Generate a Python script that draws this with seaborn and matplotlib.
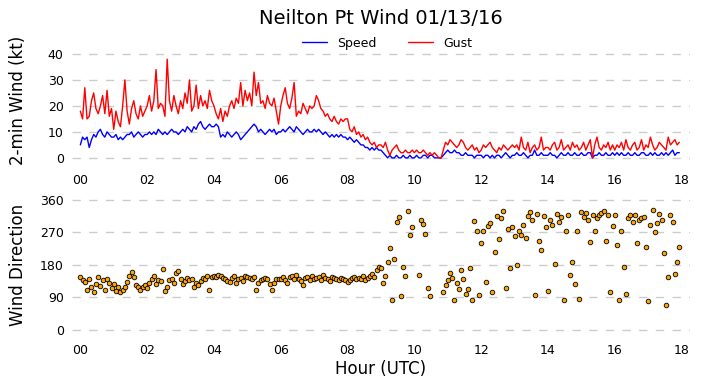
import numpy as np
import pandas as pd
import matplotlib
matplotlib.use("Agg")
import matplotlib.pyplot as plt
import seaborn as sns

# 4-minute samples, 15 per hour, 00-18 UTC
speed = [
    5, 8, 7, 8, 4, 7, 9, 8, 10, 11, 9, 8, 10, 9, 8,
    8, 9, 7, 8, 7, 8, 9, 9, 10, 8, 9, 10, 9, 8, 9,
    9, 10, 9, 10, 9, 11, 10, 9, 10, 9, 10, 11, 10, 10, 9,
    10, 11, 10, 12, 11, 10, 12, 11, 13, 14, 12, 11, 12, 13, 12,
    12, 13, 12, 8, 9, 8, 10, 9, 8, 9, 10, 9, 7, 8, 9,
    10, 11, 12, 13, 12, 10, 11, 10, 9, 10, 11, 10, 11, 9, 10,
    10, 11, 10, 11, 12, 11, 10, 12, 11, 10, 9, 10, 11, 10, 10,
    11, 10, 11, 10, 9, 10, 9, 8, 9, 8, 9, 8, 9, 8, 8,
    7, 8, 7, 6, 7, 6, 5, 5, 4, 4, 3, 4, 3, 4, 3,
    3, 2, 1, 0, 1, 0, 0, 1, 0, 0, 1, 0, 0, 1, 0,
    0, 1, 0, 0, 1, 1, 0, 1, 1, 0, 0, 0, 0, 1, 2,
    3, 2, 2, 3, 2, 2, 1, 1, 2, 1, 1, 1, 0, 1, 1,
    1, 0, 1, 1, 0, 1, 0, 1, 1, 0, 1, 2, 1, 0, 1,
    1, 2, 1, 1, 2, 1, 0, 1, 1, 3, 1, 1, 2, 1, 1,
    1, 2, 1, 1, 0, 1, 2, 1, 1, 2, 1, 1, 2, 1, 1,
    2, 1, 1, 2, 2, 0, 1, 1, 2, 1, 1, 2, 1, 1, 2,
    1, 2, 1, 2, 1, 1, 2, 1, 1, 2, 1, 1, 2, 2, 1,
    1, 2, 1, 2, 1, 1, 2, 1, 2, 1, 2, 3, 1, 2, 2,
]
gust = [
    18, 15, 27, 15, 16, 22, 25, 19, 17, 20, 24, 17, 26, 16, 19,
    11, 18, 14, 12, 20, 30, 18, 13, 19, 22, 17, 15, 20, 16, 18,
    20, 24, 18, 22, 34, 19, 21, 20, 16, 38, 22, 18, 24, 20, 17,
    22, 19, 25, 21, 30, 18, 20, 28, 19, 24, 20, 22, 19, 26, 22,
    20, 17, 15, 19, 14, 18, 16, 20, 22, 19, 23, 21, 29, 20, 26,
    22, 25, 20, 33, 24, 29, 21, 22, 19, 24, 21, 20, 23, 18, 13,
    20, 24, 27, 21, 19, 23, 29, 16, 18, 17, 21, 19, 17, 20, 19,
    20, 24, 22, 19, 18, 16, 17, 15, 14, 16, 14, 13, 15, 14, 15,
    15, 11, 10, 12, 9, 10, 8, 9, 7, 8, 6, 5, 6, 4, 5,
    5, 4, 6, 3, 1, 3, 4, 5, 3, 2, 2, 3, 2, 2, 3,
    2, 3, 2, 2, 3, 2, 1, 2, 1, 2, 1, 0, 0, 3, 6,
    5, 7, 6, 5, 4, 5, 7, 6, 4, 3, 4, 5, 3, 4, 2,
    3, 5, 4, 5, 6, 4, 3, 2, 4, 3, 5, 4, 3, 4, 5,
    4, 5, 3, 8, 4, 3, 6, 2, 4, 5, 3, 4, 8, 3, 4,
    4, 3, 5, 6, 3, 4, 7, 3, 4, 5, 3, 6, 4, 5, 3,
    4, 6, 3, 5, 7, 0, 5, 8, 4, 3, 5, 4, 6, 3, 5,
    3, 5, 4, 6, 3, 7, 4, 3, 5, 6, 3, 4, 7, 3, 5,
    4, 8, 5, 3, 4, 6, 5, 4, 3, 8, 5, 6, 7, 5, 6,
]
nan = np.nan
direction = [
    148, 138, 132, 110, 140, 120, 104, 128, 146, 122, 138, 112, 140, 130, 116,
    128, 108, 120, 104, 112, 118, 134, 150, 160, 146, 125, 120, 112, 118, 124,
    115, 130, 140, 150, 128, 138, 135, 170, 108, 120, 138, 142, 130, 158, 164,
    140, 128, 135, 145, 138, 140, 120, 130, 125, 137, 145, 140, 150, 110, 148,
    150, 148, 152, 150, 145, 140, 137, 132, 145, 150, 130, 140, 145, 135, 150,
    148, 145, 140, 146, 112, 130, 138, 142, 145, 140, 128, 110, 130, 142, 140,
    140, 146, 138, 130, 146, 150, 142, 152, 140, 135, 125, 143, 146, 138, 150,
    140, 145, 148, 138, 152, 145, 140, 135, 148, 143, 140, 138, 145, 140, 138,
    132, 138, 143, 148, 142, 145, 140, 150, 138, 145, 150, 155, 148, 165, 175,
    172, 130, 150, 189, 226, 82, 196, 298, 313, 94, 174, 149, 330, 263, 285,
    nan, nan, 152, 304, 294, 266, 115, 93, nan, nan, nan, nan, nan, 106, 125,
    139, 158, 145, 82, 130, 113, 165, 141, 99, 113, 171, 84, 302, 274, 97,
    240, 274, 134, 287, 296, 104, 217, 317, 251, 310, 330, 115, 280, 171, 285,
    259, 179, 273, 264, 291, 256, 317, 327, 305, 96, 320, 247, 221, 317, 286,
    108, 305, 292, 184, 320, 299, 312, 83, 275, 318, 151, 188, 127, 274, 85,
    327, 312, 325, 305, 243, 318, 275, 310, 318, 325, 330, 247, 318, 105, 289,
    318, 235, 83, 275, 174, 99, 310, 318, 300, 318, 240, 305, 310, 312, 229,
    79, 290, 332, 271, 295, 320, 305, 212, 68, 146, 318, 300, 154, 188, 231,
]
hour_ticks = [0, 2, 4, 6, 8, 10, 12, 14, 16, 18]
hour_labels = ["00", "02", "04", "06", "08", "10", "12", "14", "16", "18"]

df = pd.DataFrame({
    "hour": np.arange(len(speed)) / 15,
    "speed": speed,
    "gust": gust,
    "direction": direction,
})

sns.set_style("white")
plt.rcParams["font.family"] = ["DejaVu Sans"]
plt.rcParams["text.color"] = "k"
plt.rcParams["xtick.color"] = "k"
plt.rcParams["ytick.color"] = "k"

fig = plt.figure(figsize=(7.01, 3.88), dpi=100)
ax1 = fig.add_axes([0.1027, 0.573, 0.8815, 0.308])
ax2 = fig.add_axes([0.1027, 0.1356, 0.8815, 0.3629])

sns.lineplot(data=df, x="hour", y="speed", ax=ax1, color="b", lw=1, label="Speed")
sns.lineplot(data=df, x="hour", y="gust", ax=ax1, color="r", lw=1, label="Gust")
sns.scatterplot(data=df, x="hour", y="direction", ax=ax2, color="orange",
                edgecolor="k", linewidth=0.6, s=11, zorder=3)

ax1.set_ylim(-3, 43)
ax1.set_yticks([0, 10, 20, 30, 40])
ax2.set_ylim(-15, 375)
ax2.set_yticks([0, 90, 180, 270, 360])

for ax in (ax1, ax2):
    ax.set_xlim(-0.25, 18.25)
    ax.set_xticks(hour_ticks)
    ax.set_xticklabels(hour_labels)
    ax.set_xlabel("")
    ax.set_ylabel("")
    ax.tick_params(length=0, labelsize=9, pad=6)
    ax.yaxis.grid(True, color="#cccccc", linestyle=(0, (6, 6)), lw=1)
    ax.xaxis.grid(False)
    sns.despine(ax=ax, left=True, bottom=True)

ax1.legend(loc="center", bbox_to_anchor=(0.552, 0.889), bbox_transform=fig.transFigure,
           ncol=2, frameon=False, fontsize=9, columnspacing=2.5, handlelength=2)

fig.text(0.543, 1 - 19 / 388, "Neilton Pt Wind 01/13/16", ha="center", va="center", fontsize=14)
fig.text(0.026, 1 - 100 / 388, "2-min Wind (kt)", rotation=90, ha="center", va="center", fontsize=12)
fig.text(0.026, 1 - 265 / 388, "Wind Direction", rotation=90, ha="center", va="center", fontsize=12)
fig.text(0.543, 1 - 369 / 388, "Hour (UTC)", ha="center", va="center", fontsize=12)

fig.savefig("out.png", dpi=100)
